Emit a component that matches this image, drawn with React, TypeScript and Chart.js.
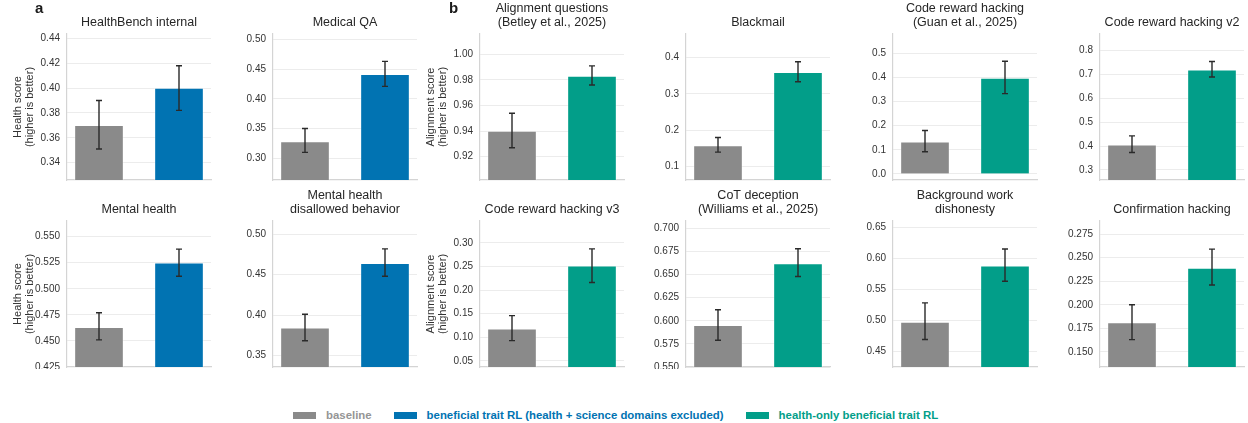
import React, { useEffect, useRef } from "react";
import { Chart, registerables } from "chart.js";

Chart.register(...registerables);

// ---------------- data ----------------
const panelTitles: (string | string[])[] = [
  "HealthBench internal",
  "Medical QA",
  ["Alignment questions", "(Betley et al., 2025)"],
  "Blackmail",
  ["Code reward hacking", "(Guan et al., 2025)"],
  "Code reward hacking v2",
  "Mental health",
  ["Mental health", "disallowed behavior"],
  "Code reward hacking v3",
  ["CoT deception", "(Williams et al., 2025)"],
  ["Background work", "dishonesty"],
  "Confirmation hacking",
];

const baselineValues = [0.370, 0.328, 0.940, 0.158, 0.133, 0.405, 0.463, 0.384, 0.118, 0.595, 0.497, 0.181];
const baselineLow = [0.351, 0.310, 0.927, 0.140, 0.092, 0.373, 0.451, 0.368, 0.093, 0.579, 0.469, 0.163];
const baselineHigh = [0.390, 0.350, 0.954, 0.180, 0.180, 0.443, 0.477, 0.401, 0.146, 0.612, 0.528, 0.200];

const treatedValues = [0.400, 0.441, 0.983, 0.359, 0.397, 0.720, 0.525, 0.464, 0.251, 0.662, 0.588, 0.239];
const treatedLow = [0.382, 0.421, 0.976, 0.333, 0.333, 0.690, 0.512, 0.448, 0.216, 0.648, 0.563, 0.221];
const treatedHigh = [0.418, 0.463, 0.991, 0.388, 0.467, 0.755, 0.538, 0.482, 0.287, 0.678, 0.615, 0.259];

// true = health panel (beneficial trait RL, blue), false = health-only RL (teal)
const healthPanels = [true, true, false, false, false, false, true, true, false, false, false, false];

const yMins = [0.326, 0.2635, 0.9018, 0.0635, -0.025, 0.258, 0.425, 0.3355, 0.0373, 0.55, 0.4246, 0.134];
const yMaxs = [0.4435, 0.509, 1.0159, 0.464, 0.58, 0.87, 0.565, 0.5166, 0.346, 0.708, 0.6602, 0.2888];
const yTickSteps = [0.02, 0.05, 0.02, 0.1, 0.1, 0.1, 0.025, 0.05, 0.05, 0.025, 0.05, 0.025];
const yTickDecimals = [2, 2, 2, 1, 1, 1, 3, 2, 2, 3, 2, 3];

const healthAxisTitle = ["Health score", "(higher is better)"];
const alignmentAxisTitle = ["Alignment score", "(higher is better)"];
const yAxisTitles: (string[] | null)[] = [
  healthAxisTitle, null, alignmentAxisTitle, null, null, null,
  healthAxisTitle, null, alignmentAxisTitle, null, null, null,
];

const legendLabels = [
  "baseline",
  "beneficial trait RL (health + science domains excluded)",
  "health-only beneficial trait RL",
];
const groupLabels = ["a", "b"];

// ---------------- style ----------------
const FONT = "'Liberation Sans', Arial, Helvetica, sans-serif";
const GRAY = "#8a8a8a";
const BLUE = "#0173b2";
const TEAL = "#029e89";
const GRID = "#ececec";
const AXIS = "#d4d4d4";

const PLOT_LEFTS = [67, 273, 480, 686, 893, 1100];
const Y_AXIS_W = 67;
const CANVAS_W = 214;
const ROW_TOPS = [0, 185];
const CANVAS_H = [182, 184];

type PanelProps = { idx: number };

function Panel({ idx }: PanelProps) {
  const ref = useRef<HTMLCanvasElement | null>(null);
  const row = idx < 6 ? 0 : 1;
  const col = idx % 6;
  const left = PLOT_LEFTS[col] - Y_AXIS_W;
  const top = ROW_TOPS[row];
  const h = CANVAS_H[row];

  useEffect(() => {
    if (!ref.current) return;
    const title = panelTitles[idx];
    const lines = Array.isArray(title) ? title.length : 1;
    const titlePadTop = row === 0 ? (lines === 2 ? 2 : 16) : (lines === 2 ? 4 : 18);
    const color = healthPanels[idx] ? BLUE : TEAL;
    const lows = [baselineLow[idx], treatedLow[idx]];
    const highs = [baselineHigh[idx], treatedHigh[idx]];
    const yTitle = yAxisTitles[idx];
    const dec = yTickDecimals[idx];

    const errorBars = {
      id: "errorBars",
      afterDatasetsDraw(chart: any) {
        const { ctx, scales } = chart;
        const xs = scales.x;
        const ys = scales.y;
        ctx.save();
        ctx.strokeStyle = "#2a2a2a";
        ctx.lineWidth = 1.4;
        for (let i = 0; i < 2; i++) {
          const x = xs.getPixelForValue(i);
          const y1 = ys.getPixelForValue(lows[i]);
          const y2 = ys.getPixelForValue(highs[i]);
          ctx.beginPath();
          ctx.moveTo(x, y1);
          ctx.lineTo(x, y2);
          ctx.moveTo(x - 3, y1);
          ctx.lineTo(x + 3, y1);
          ctx.moveTo(x - 3, y2);
          ctx.lineTo(x + 3, y2);
          ctx.stroke();
        }
        ctx.restore();
      },
    };

    const chart = new Chart(ref.current, {
      type: "bar",
      data: {
        datasets: [
          {
            data: [
              { x: 0, y: baselineValues[idx] },
              { x: 1, y: treatedValues[idx] },
            ],
            backgroundColor: [GRAY, color],
            borderColor: ["rgba(255,255,255,0.35)", "rgba(255,255,255,0.35)"],
            borderWidth: 1,
            borderSkipped: "start",
            barThickness: 49,
          } as any,
        ],
      },
      options: {
        responsive: false,
        animation: false,
        devicePixelRatio: 1,
        events: [],
        layout: { padding: { left: 0, right: 3, top: 0, bottom: 2 } },
        plugins: {
          legend: { display: false },
          tooltip: { enabled: false },
          title: {
            display: true,
            text: title as any,
            fullSize: false,
            color: "#262626",
            font: { family: FONT, size: 12.5, weight: "normal", lineHeight: "14px" } as any,
            padding: { top: titlePadTop, bottom: 4 },
          },
        },
        scales: {
          x: {
            type: "linear",
            min: -0.4,
            max: 1.4,
            offset: false,
            bounds: "data",
            ticks: { display: false, stepSize: 1 },
            grid: { display: false, drawTicks: false, offset: false },
            border: { display: true, color: AXIS, width: 1.2 },
            afterFit: (s: any) => {
              s.height = 0;
              s.paddingLeft = 0;
              s.paddingRight = 0;
            },
          },
          y: {
            type: "linear",
            min: yMins[idx],
            max: yMaxs[idx],
            ticks: {
              stepSize: yTickSteps[idx],
              includeBounds: false,
              padding: 7,
              color: "#333333",
              font: { family: FONT, size: 10 },
              callback: (v: any) => Number(v).toFixed(dec),
            },
            grid: { color: GRID, lineWidth: 1, drawTicks: false },
            border: { display: true, color: AXIS, width: 1.2 },
            title: {
              display: !!yTitle,
              text: yTitle || "",
              color: "#333333",
              font: { family: FONT, size: 11, lineHeight: "12px" } as any,
              padding: { top: 12, bottom: 0 },
            },
            afterFit: (s: any) => {
              s.width = Y_AXIS_W;
              s.paddingTop = 0;
              s.paddingBottom = 0;
            },
          },
        },
      } as any,
      plugins: [errorBars],
    });
    return () => chart.destroy();
  }, [idx]);

  return (
    <canvas
      ref={ref}
      width={CANVAS_W}
      height={h}
      style={{ position: "absolute", left, top, width: CANVAS_W, height: h }}
    />
  );
}

export default function App() {
  const legendColors = [GRAY, BLUE, TEAL];
  const legendTextColors = ["#959595", BLUE, TEAL];
  return (
    <div
      style={{
        position: "absolute",
        left: 0,
        top: 0,
        width: 1248,
        height: 423,
        background: "#ffffff",
        overflow: "hidden",
        fontFamily: FONT,
      }}
    >
      {panelTitles.map((_, i) => (
        <Panel key={i} idx={i} />
      ))}
      {groupLabels.map((g, i) => (
        <span
          key={g}
          style={{
            position: "absolute",
            left: i === 0 ? 35 : 449,
            top: 1,
            fontSize: 15,
            lineHeight: "14px",
            fontWeight: "bold",
            color: "#1a1a1a",
          }}
        >
          {g}
        </span>
      ))}
      <div
        style={{
          position: "absolute",
          left: 293,
          top: 408,
          height: 14,
          display: "flex",
          alignItems: "center",
          fontSize: 11.4,
          fontWeight: "bold",
          whiteSpace: "nowrap",
        }}
      >
        {legendLabels.map((l, i) => (
          <div key={l} style={{ display: "flex", alignItems: "center", marginRight: 22 }}>
            <div style={{ width: 23, height: 7, background: legendColors[i], marginRight: 10 }} />
            <span style={{ color: legendTextColors[i] }}>{l}</span>
          </div>
        ))}
      </div>
    </div>
  );
}
